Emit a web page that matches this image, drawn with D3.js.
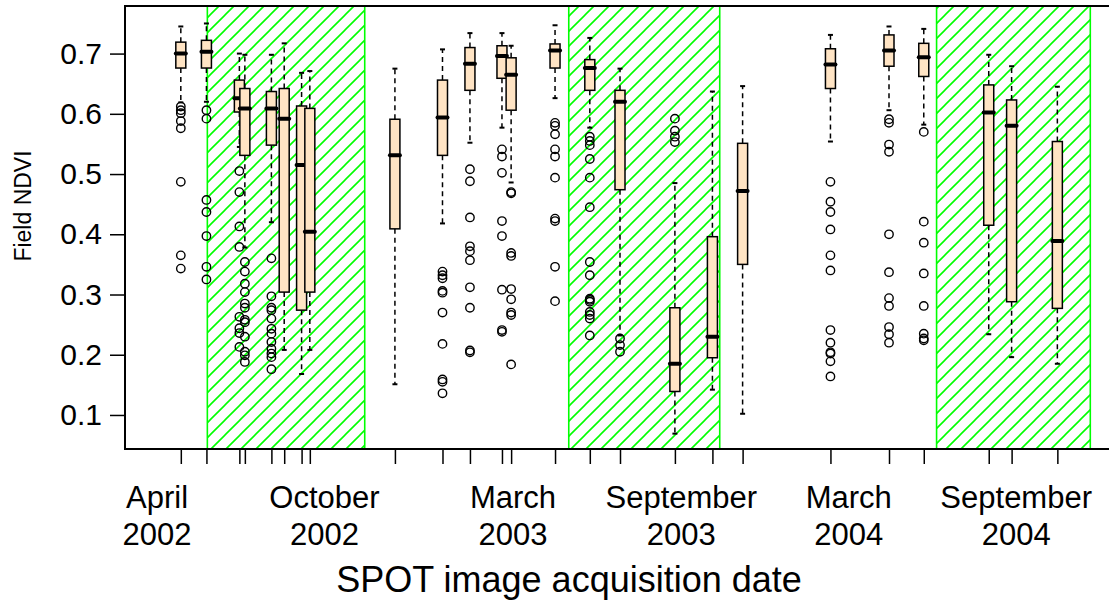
<!DOCTYPE html>
<html>
<head>
  <script src="https://d3js.org/d3.v7.min.js"></script>
  <style>
    body { margin: 0; background: #fff; }
    text { font-family: "Liberation Sans", Arial, sans-serif; fill: #000; }
  </style>
</head>
<body>
  <div id="chart"></div>
  <script>
    // acquisition dates, one box per date
    const dates = ["2002-03-17","2002-04-14","2002-05-20","2002-05-26","2002-06-24","2002-07-08","2002-07-27","2002-08-05",
      "2002-11-06","2002-12-28","2003-01-27","2003-03-03","2003-03-13","2003-04-30","2003-06-07","2003-07-10",
      "2003-09-08","2003-10-19","2003-11-21","2004-02-25","2004-04-29","2004-06-06","2004-08-16","2004-09-10","2004-10-30"];

    // box statistics (Field NDVI)
    const whiskerHi = [0.745,0.750,0.700,0.698,0.698,0.717,0.668,0.671,0.675,0.707,0.734,0.734,0.713,0.747,0.726,0.675,0.485,0.637,0.646,0.731,0.745,0.741,0.698,0.679,0.645];
    const boxHi     = [0.719,0.722,0.656,0.642,0.637,0.642,0.613,0.609,0.591,0.656,0.710,0.713,0.693,0.716,0.690,0.639,0.278,0.396,0.551,0.708,0.731,0.717,0.648,0.623,0.554];
    const medians   = [0.700,0.703,0.626,0.609,0.609,0.592,0.515,0.404,0.531,0.594,0.683,0.696,0.665,0.705,0.676,0.620,0.185,0.230,0.472,0.682,0.705,0.694,0.602,0.580,0.389];
    const boxLo     = [0.676,0.676,0.603,0.531,0.548,0.304,0.274,0.304,0.409,0.531,0.639,0.659,0.606,0.676,0.639,0.474,0.139,0.195,0.350,0.642,0.679,0.662,0.415,0.288,0.277];
    const whiskerLo = [0.619,0.620,0.545,0.378,0.420,0.208,0.168,0.208,0.151,0.418,0.552,0.577,0.486,0.626,0.577,0.232,0.069,0.142,0.102,0.554,0.606,0.582,0.234,0.196,0.185];

    const outliers = [
      [0.612,0.606,0.601,0.588,0.576,0.487,0.365,0.343],
      [0.606,0.592,0.457,0.437,0.397,0.346,0.325],
      [0.505,0.470,0.413,0.379,0.263,0.244,0.236,0.213],
      [0.354,0.338,0.318,0.304,0.285,0.278,0.258,0.254,0.230,0.205,0.199,0.188],
      [0.360,0.297,0.278,0.274,0.260,0.243,0.235,0.221,0.210,0.202,0.196,0.176],
      [], [], [], [],
      [0.338,0.332,0.327,0.306,0.303,0.270,0.218,0.159,0.155,0.136],
      [0.508,0.488,0.428,0.380,0.372,0.357,0.312,0.278,0.207,0.204],
      [0.541,0.529,0.502,0.422,0.397,0.308,0.241,0.238],
      [0.470,0.468,0.369,0.364,0.309,0.292,0.270,0.266,0.184],
      [0.585,0.580,0.566,0.541,0.529,0.494,0.426,0.422,0.346,0.289],
      [0.562,0.555,0.548,0.525,0.494,0.445,0.354,0.332,0.293,0.291,0.288,0.271,0.266,0.260,0.232],
      [0.227,0.216,0.205],
      [0.592,0.572,0.562,0.553],
      [], [],
      [0.487,0.454,0.437,0.408,0.365,0.340,0.241,0.220,0.204,0.202,0.189,0.164],
      [0.591,0.585,0.549,0.537,0.400,0.337,0.294,0.281,0.246,0.234,0.220],
      [0.570,0.421,0.386,0.335,0.281,0.235,0.227,0.224],
      [], [], []
    ];

    // hatched periods
    const periodStart = ["2002-04-15","2003-05-15","2004-06-20"];
    const periodEnd   = ["2002-10-04","2003-10-27","2004-12-05"];

    // x labels
    const labelDates = ["2002-02-19","2002-08-21","2003-03-15","2003-09-15","2004-03-16","2004-09-15"];
    const labelMonth = ["April","October","March","September","March","September"];
    const labelYear  = ["2002","2002","2003","2003","2004","2004"];

    const yTicks = [0.1, 0.2, 0.3, 0.4, 0.5, 0.6, 0.7];

    const parse = d3.timeParse("%Y-%m-%d");
    const W = 1109, H = 607;
    const mLeft = 125, mTop = 6, mBottom = 449, mRight = 1115;

    const svg = d3.select("#chart").append("svg")
      .attr("width", W).attr("height", H);

    const x = d3.scaleTime()
      .domain([parse("2002-01-15"), parse("2005-01-01")])
      .range([mLeft, mRight]);
    const y = d3.scaleLinear()
      .domain([0.0435, 0.779])
      .range([mBottom, mTop]);

    // hatch pattern
    const pat = svg.append("defs").append("pattern")
      .attr("id", "hatch").attr("patternUnits", "userSpaceOnUse")
      .attr("width", 15).attr("height", 15);
    pat.append("path")
      .attr("d", "M0,15 L15,0 M-4,4 L4,-4 M11,19 L19,11")
      .attr("stroke", "#00ff00").attr("stroke-width", 1.6);

    periodStart.forEach((s, i) => {
      const x0 = x(parse(s)), x1 = x(parse(periodEnd[i]));
      svg.append("rect")
        .attr("x", x0).attr("y", mTop)
        .attr("width", x1 - x0).attr("height", mBottom - mTop)
        .attr("fill", "url(#hatch)")
        .attr("stroke", "#00ff00").attr("stroke-width", 1.6);
    });

    // axes
    const yAxis = svg.append("g")
      .attr("transform", `translate(${mLeft},0)`)
      .call(d3.axisLeft(y).tickValues(yTicks).tickSize(15).tickPadding(8).tickFormat(d3.format(".1f")));
    yAxis.select(".domain").remove();
    yAxis.selectAll("line").attr("stroke", "#000").attr("stroke-width", 1.5);
    yAxis.selectAll("text").style("font-size", "30px").attr("font-family", null);

    const xAxis = svg.append("g")
      .attr("transform", `translate(0,${mBottom})`)
      .call(d3.axisBottom(x).tickValues(dates.map(parse)).tickSize(15).tickFormat(""));
    xAxis.select(".domain").remove();
    xAxis.selectAll("line").attr("stroke", "#000").attr("stroke-width", 1.5);

    // frame
    svg.append("rect")
      .attr("x", mLeft).attr("y", mTop)
      .attr("width", mRight - mLeft).attr("height", mBottom - mTop)
      .attr("fill", "none").attr("stroke", "#000").attr("stroke-width", 2);

    // boxes
    const bw = 10;
    const g = svg.append("g");
    dates.forEach((d, i) => {
      const cx = x(parse(d));
      // whiskers
      [[boxHi[i], whiskerHi[i]], [boxLo[i], whiskerLo[i]]].forEach(([a, b]) => {
        g.append("line")
          .attr("x1", cx).attr("x2", cx).attr("y1", y(a)).attr("y2", y(b))
          .attr("stroke", "#000").attr("stroke-width", 1.5).attr("stroke-dasharray", "5,4");
        g.append("line")
          .attr("x1", cx - 2.5).attr("x2", cx + 2.5).attr("y1", y(b)).attr("y2", y(b))
          .attr("stroke", "#000").attr("stroke-width", 2);
      });
      g.append("rect")
        .attr("x", cx - bw / 2).attr("y", y(boxHi[i]))
        .attr("width", bw).attr("height", y(boxLo[i]) - y(boxHi[i]))
        .attr("fill", "#ffe4c4").attr("stroke", "#000").attr("stroke-width", 1.5);
      g.append("line")
        .attr("x1", cx - bw / 2).attr("x2", cx + bw / 2)
        .attr("y1", y(medians[i])).attr("y2", y(medians[i]))
        .attr("stroke", "#000").attr("stroke-width", 4).attr("stroke-linecap", "round");
      g.selectAll(null).data(outliers[i]).enter().append("circle")
        .attr("cx", cx).attr("cy", v => y(v)).attr("r", 4.2)
        .attr("fill", "none").attr("stroke", "#000").attr("stroke-width", 1.4);
    });

    // date labels
    labelDates.forEach((d, i) => {
      const t = svg.append("text")
        .attr("x", x(parse(d))).attr("text-anchor", "middle")
        .style("font-size", "31px");
      t.append("tspan").attr("x", x(parse(d))).attr("y", 508).text(labelMonth[i]);
      t.append("tspan").attr("x", x(parse(d))).attr("y", 545).text(labelYear[i]);
    });

    svg.append("text")
      .attr("x", 569).attr("y", 592).attr("text-anchor", "middle")
      .style("font-size", "36px")
      .text("SPOT image acquisition date");

    svg.append("text")
      .attr("transform", "translate(31,206) rotate(-90)")
      .attr("text-anchor", "middle")
      .style("font-size", "23px")
      .text("Field NDVI");
  </script>
</body>
</html>
